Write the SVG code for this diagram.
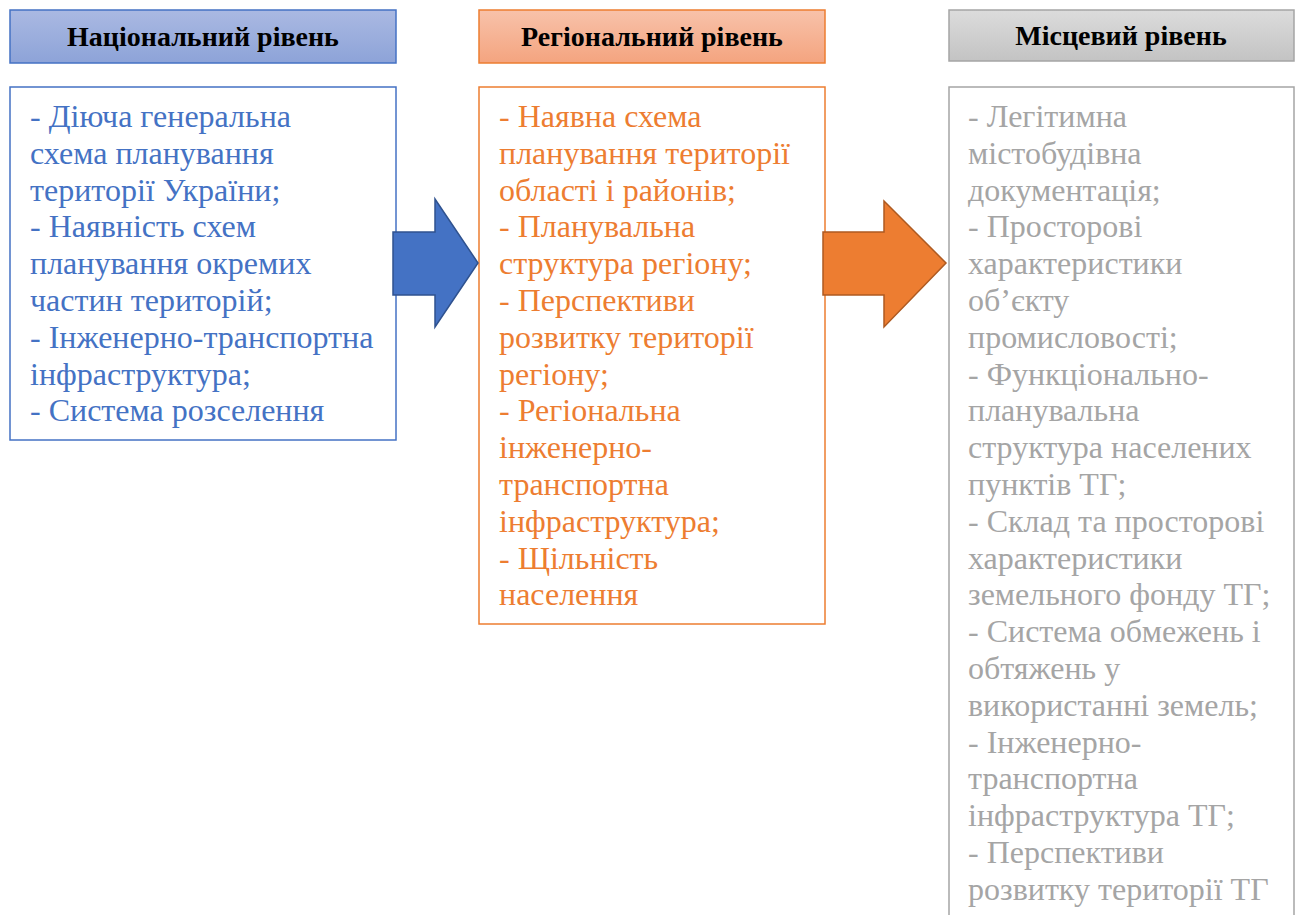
<svg xmlns="http://www.w3.org/2000/svg" width="1300" height="915" viewBox="0 0 1300 915">
<defs>
<linearGradient id="gb" x1="0" y1="0" x2="0" y2="1"><stop offset="0" stop-color="#AAB9E2"/><stop offset="1" stop-color="#8DA3D8"/></linearGradient>
<linearGradient id="go" x1="0" y1="0" x2="0" y2="1"><stop offset="0" stop-color="#F8C2AA"/><stop offset="1" stop-color="#F4A47F"/></linearGradient>
<linearGradient id="gg" x1="0" y1="0" x2="0" y2="1"><stop offset="0" stop-color="#DCDCDC"/><stop offset="1" stop-color="#C3C3C3"/></linearGradient>
<style>
.h{font-family:"Liberation Serif","Times New Roman",serif;font-weight:bold;font-size:28px;fill:#000;text-anchor:middle}
.t{font-family:"Liberation Serif","Times New Roman",serif;font-size:32px}
.b{fill:#4472C4}.o{fill:#ED7D31}.g{fill:#A5A5A5}
</style>
</defs>
<rect width="1300" height="915" fill="#fff"/>
<g id="national">
<rect x="10" y="10" width="386" height="53" fill="url(#gb)" stroke="#4472C4" stroke-width="1.5"/>
<text class="h" x="203" y="46">Національний рівень</text>
<rect x="10" y="87" width="386" height="353" fill="#fff" stroke="#4472C4" stroke-width="1.5"/>
<text class="t b" x="30">
<tspan x="30" y="127">- Діюча генеральна</tspan>
<tspan x="30" dy="36.8">схема планування</tspan>
<tspan x="30" dy="36.8">території України;</tspan>
<tspan x="30" dy="36.8">- Наявність схем</tspan>
<tspan x="30" dy="36.8">планування окремих</tspan>
<tspan x="30" dy="36.8">частин територій;</tspan>
<tspan x="30" dy="36.8">- Інженерно-транспортна</tspan>
<tspan x="30" dy="36.8">інфраструктура;</tspan>
<tspan x="30" dy="36.8">- Система розселення</tspan>
</text>
</g>
<g id="regional">
<rect x="479" y="10" width="346" height="53" fill="url(#go)" stroke="#ED7D31" stroke-width="1.5"/>
<text class="h" x="652" y="46">Регіональний рівень</text>
<rect x="479" y="87" width="346" height="537" fill="#fff" stroke="#ED7D31" stroke-width="1.5"/>
<text class="t o">
<tspan x="499" y="127">- Наявна схема</tspan>
<tspan x="499" dy="36.8">планування території</tspan>
<tspan x="499" dy="36.8">області і районів;</tspan>
<tspan x="499" dy="36.8">- Планувальна</tspan>
<tspan x="499" dy="36.8">структура регіону;</tspan>
<tspan x="499" dy="36.8">- Перспективи</tspan>
<tspan x="499" dy="36.8">розвитку території</tspan>
<tspan x="499" dy="36.8">регіону;</tspan>
<tspan x="499" dy="36.8">- Регіональна</tspan>
<tspan x="499" dy="36.8">інженерно-</tspan>
<tspan x="499" dy="36.8">транспортна</tspan>
<tspan x="499" dy="36.8">інфраструктура;</tspan>
<tspan x="499" dy="36.8">- Щільність</tspan>
<tspan x="499" dy="36.8">населення</tspan>
</text>
</g>
<g id="local">
<rect x="949" y="10" width="345" height="51" fill="url(#gg)" stroke="#A5A5A5" stroke-width="1.5"/>
<text class="h" x="1121" y="45">Місцевий рівень</text>
<rect x="949" y="87" width="345" height="840" fill="#fff" stroke="#A5A5A5" stroke-width="1.5"/>
<text class="t g">
<tspan x="968" y="127">- Легітимна</tspan>
<tspan x="968" dy="36.8">містобудівна</tspan>
<tspan x="968" dy="36.8">документація;</tspan>
<tspan x="968" dy="36.8">- Просторові</tspan>
<tspan x="968" dy="36.8">характеристики</tspan>
<tspan x="968" dy="36.8">об’єкту</tspan>
<tspan x="968" dy="36.8">промисловості;</tspan>
<tspan x="968" dy="36.8">- Функціонально-</tspan>
<tspan x="968" dy="36.8">планувальна</tspan>
<tspan x="968" dy="36.8">структура населених</tspan>
<tspan x="968" dy="36.8">пунктів ТГ;</tspan>
<tspan x="968" dy="36.8">- Склад та просторові</tspan>
<tspan x="968" dy="36.8">характеристики</tspan>
<tspan x="968" dy="36.8">земельного фонду ТГ;</tspan>
<tspan x="968" dy="36.8">- Система обмежень і</tspan>
<tspan x="968" dy="36.8">обтяжень у</tspan>
<tspan x="968" dy="36.8">використанні земель;</tspan>
<tspan x="968" dy="36.8">- Інженерно-</tspan>
<tspan x="968" dy="36.8">транспортна</tspan>
<tspan x="968" dy="36.8">інфраструктура ТГ;</tspan>
<tspan x="968" dy="36.8">- Перспективи</tspan>
<tspan x="968" dy="36.8">розвитку території ТГ</tspan>
</text>
</g>
<g id="connectors">
<polygon points="393,232 435,232 435,199 478,263 435,327 435,295 393,295" fill="#4472C4" stroke="#2F528F" stroke-width="1.5"/>
<polygon points="823,232 884,232 884,201 946,263 884,327 884,295 823,295" fill="#ED7D31" stroke="#AE5A21" stroke-width="1.5"/>
</g>
</svg>
